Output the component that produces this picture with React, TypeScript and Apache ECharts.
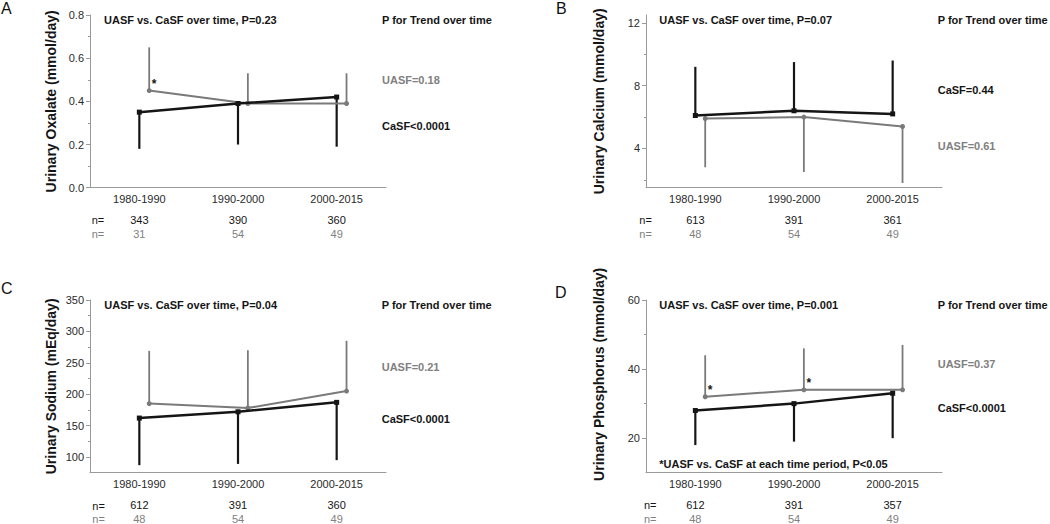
import React, { useEffect, useRef } from "react";
import * as echarts from "echarts";

const FONT = '"Liberation Sans", Arial, Helvetica, sans-serif';
const BLACK = "#151515";
const GRAY = "#7a7a7a";
const GRAY_TEXT = "#808080";
const AXIS = "#9a9a9a";
const LABEL = "#2a2a2a";

// ---------- data ----------
const categories = ["1980-1990", "1990-2000", "2000-2015"];

// Panel A – Urinary Oxalate (mmol/day)
const oxalateCasf = [0.35, 0.39, 0.42];
const oxalateCasfSd = [0.18, 0.2, 0.19];
const oxalateUasf = [0.45, 0.39, 0.39];
const oxalateUasfSd = [0.65, 0.53, 0.53];
const oxalateNCasf = ["343", "390", "360"];
const oxalateNUasf = ["31", "54", "49"];
const oxalateStar = [true, false, false];
const oxalateMajor = [0, 0.2, 0.4, 0.6, 0.8];
const oxalateMinor = [0.1, 0.3, 0.5, 0.7];

// Panel B – Urinary Calcium (mmol/day)
const calciumCasf = [6.1, 6.4, 6.2];
const calciumCasfSd = [9.2, 9.5, 9.6];
const calciumUasf = [5.9, 6.0, 5.4];
const calciumUasfSd = [2.8, 2.5, 1.8];
const calciumNCasf = ["613", "391", "361"];
const calciumNUasf = ["48", "54", "49"];
const calciumStar = [false, false, false];
const calciumMajor = [4, 8, 12];
const calciumMinor = [2, 6, 10];

// Panel C – Urinary Sodium (mEq/day)
const sodiumCasf = [162, 172, 187];
const sodiumCasfSd = [87, 89, 95];
const sodiumUasf = [185, 178, 205];
const sodiumUasfSd = [269, 270, 285];
const sodiumNCasf = ["612", "391", "360"];
const sodiumNUasf = ["48", "54", "49"];
const sodiumStar = [false, false, false];
const sodiumMajor = [100, 150, 200, 250, 300, 350];
const sodiumMinor = [125, 175, 225, 275, 325];

// Panel D – Urinary Phosphorus (mmol/day)
const phosCasf = [28, 30, 33];
const phosCasfSd = [18, 19, 20];
const phosUasf = [32, 34, 34];
const phosUasfSd = [44, 46, 47];
const phosNCasf = ["612", "391", "357"];
const phosNUasf = ["48", "54", "49"];
const phosStar = [true, true, false];
const phosMajor = [20, 40, 60];
const phosMinor = [30, 50];

// ---------- layout ----------
const GRID_W = 296;
const GRID_H = 172.7;
const UASF_SHIFT = 0.1;

const panels = [
  {
    letter: "A", letterX: 1, letterY: 0,
    left: 90, top: 15, nameGap: 32, namePad: 0,
    yName: "Urinary Oxalate (mmol/day)", yMin: 0, yMax: 0.8, decimals: 1,
    major: oxalateMajor, minor: oxalateMinor,
    casf: oxalateCasf, casfSd: oxalateCasfSd, uasf: oxalateUasf, uasfSd: oxalateUasfSd,
    nCasf: oxalateNCasf, nUasf: oxalateNUasf, star: oxalateStar,
    title: "UASF vs. CaSF over time, P=0.23", titleX: 104, titleY: 20,
    trendX: 382,
    pvals: [
      { text: "UASF=0.18", color: GRAY_TEXT, y: 80 },
      { text: "CaSF<0.0001", color: BLACK, y: 125.7 },
    ],
    nX: 91.7, nY1: 220, nY2: 234, foot: null as null | { text: string; y: number },
  },
  {
    letter: "B", letterX: 556, letterY: 0,
    left: 646, top: 15, nameGap: 40, namePad: 0,
    yName: "Urinary Calcium (mmol/day)", yMin: 1.5, yMax: 12.5, decimals: 0,
    major: calciumMajor, minor: calciumMinor,
    casf: calciumCasf, casfSd: calciumCasfSd, uasf: calciumUasf, uasfSd: calciumUasfSd,
    nCasf: calciumNCasf, nUasf: calciumNUasf, star: calciumStar,
    title: "UASF vs. CaSF over time, P=0.07", titleX: 659.3, titleY: 20,
    trendX: 937.7,
    pvals: [
      { text: "CaSF=0.44", color: BLACK, y: 90 },
      { text: "UASF=0.61", color: GRAY_TEXT, y: 146 },
    ],
    nX: 639.3, nY1: 220, nY2: 234, foot: null,
  },
  {
    letter: "C", letterX: 1, letterY: 280,
    left: 90, top: 300, nameGap: 32, namePad: 0,
    yName: "Urinary Sodium (mEq/day)", yMin: 75, yMax: 350, decimals: 0,
    major: sodiumMajor, minor: sodiumMinor,
    casf: sodiumCasf, casfSd: sodiumCasfSd, uasf: sodiumUasf, uasfSd: sodiumUasfSd,
    nCasf: sodiumNCasf, nUasf: sodiumNUasf, star: sodiumStar,
    title: "UASF vs. CaSF over time, P=0.04", titleX: 104.3, titleY: 304.7,
    trendX: 381.7,
    pvals: [
      { text: "UASF=0.21", color: GRAY_TEXT, y: 367 },
      { text: "CaSF<0.0001", color: BLACK, y: 418.7 },
    ],
    nX: 92.3, nY1: 505.5, nY2: 519.3, foot: null,
  },
  {
    letter: "D", letterX: 555, letterY: 284,
    left: 646, top: 300, nameGap: 40, namePad: 24,
    yName: "Urinary Phosphorus (mmol/day)", yMin: 10, yMax: 60, decimals: 0,
    major: phosMajor, minor: phosMinor,
    casf: phosCasf, casfSd: phosCasfSd, uasf: phosUasf, uasfSd: phosUasfSd,
    nCasf: phosNCasf, nUasf: phosNUasf, star: phosStar,
    title: "UASF vs. CaSF over time, P=0.001", titleX: 659.3, titleY: 304.7,
    trendX: 937.7,
    pvals: [
      { text: "UASF=0.37", color: GRAY_TEXT, y: 363.7 },
      { text: "CaSF<0.0001", color: BLACK, y: 408 },
    ],
    nX: 644, nY1: 505.3, nY2: 519.3,
    foot: { text: "*UASF vs. CaSF at each time period, P<0.05", y: 463.7 },
  },
];

function errBar(color: string, width: number) {
  return (params: any, api: any) => {
    const x = api.value(0);
    const p1 = api.coord([x, api.value(1)]);
    const p2 = api.coord([x, api.value(2)]);
    return {
      type: "line",
      shape: { x1: p1[0], y1: p1[1], x2: p2[0], y2: p2[1] },
      style: { stroke: color, lineWidth: width },
    };
  };
}

function text(x: number, y: number, str: string, opts: any = {}) {
  return {
    type: "text",
    x,
    y,
    silent: true,
    style: {
      text: str,
      fill: opts.fill || BLACK,
      fontFamily: FONT,
      fontSize: opts.fontSize || 11,
      fontWeight: opts.fontWeight || "bold",
      align: opts.align || "left",
      verticalAlign: opts.verticalAlign || "middle",
    },
  };
}

function buildOption() {
  const grid: any[] = [];
  const xAxis: any[] = [];
  const yAxis: any[] = [];
  const series: any[] = [];
  const graphic: any[] = [];

  panels.forEach((p, i) => {
    grid.push({ left: p.left, top: p.top, width: GRID_W, height: GRID_H, outerBoundsMode: "none" });

    xAxis.push({
      type: "category",
      gridIndex: i,
      position: "bottom",
      data: categories,
      axisLine: { onZero: false, lineStyle: { color: AXIS, width: 1 } },
      axisTick: { alignWithLabel: true, length: 4, lineStyle: { color: AXIS } },
      axisLabel: { interval: 0, margin: 6, fontSize: 11, color: LABEL, fontFamily: FONT },
      splitLine: { show: false },
    });
    xAxis.push({
      type: "category",
      gridIndex: i,
      position: "bottom",
      data: p.nCasf,
      axisLine: { show: false, onZero: false },
      axisTick: { show: false },
      axisLabel: { interval: 0, margin: 27, fontSize: 11, color: BLACK, fontFamily: FONT },
      splitLine: { show: false },
    });
    xAxis.push({
      type: "category",
      gridIndex: i,
      position: "bottom",
      data: p.nUasf,
      axisLine: { show: false, onZero: false },
      axisTick: { show: false },
      axisLabel: { interval: 0, margin: 41, fontSize: 11, color: GRAY_TEXT, fontFamily: FONT },
      splitLine: { show: false },
    });
    xAxis.push({
      type: "value",
      gridIndex: i,
      position: "bottom",
      min: -0.5,
      max: 2.5,
      show: false,
      axisLine: { onZero: false },
      splitLine: { show: false },
    });

    yAxis.push({
      type: "value",
      gridIndex: i,
      position: "left",
      min: p.yMin,
      max: p.yMax,
      name: p.yName,
      nameLocation: "middle",
      nameGap: p.nameGap,
      nameTextStyle: {
        fontSize: 14,
        fontWeight: "bold",
        color: BLACK,
        fontFamily: FONT,
        padding: [0, 0, 0, p.namePad],
      },
      axisLine: { show: true, onZero: false, lineStyle: { color: AXIS, width: 1 } },
      axisTick: { show: true, length: 4, customValues: p.major, lineStyle: { color: AXIS } },
      axisLabel: {
        customValues: p.major,
        margin: 6,
        fontSize: 11,
        color: LABEL,
        fontFamily: FONT,
        formatter: (v: number) => v.toFixed(p.decimals),
      },
      splitLine: { show: false },
    });
    yAxis.push({
      type: "value",
      gridIndex: i,
      position: "left",
      min: p.yMin,
      max: p.yMax,
      axisLine: { show: false, onZero: false },
      axisTick: { show: true, length: 2, customValues: p.minor, lineStyle: { color: AXIS } },
      axisLabel: { show: false },
      splitLine: { show: false },
    });

    const xi = i * 4 + 3;
    const yi = i * 2;

    series.push({
      type: "custom",
      xAxisIndex: xi,
      yAxisIndex: yi,
      renderItem: errBar(BLACK, 2.2),
      encode: { x: 0, y: [1, 2] },
      data: p.casf.map((v, j) => [j, v, p.casfSd[j]]),
      z: 2,
      silent: true,
    });
    series.push({
      type: "custom",
      xAxisIndex: xi,
      yAxisIndex: yi,
      renderItem: errBar(GRAY, 1.8),
      encode: { x: 0, y: [1, 2] },
      data: p.uasf.map((v, j) => [j + UASF_SHIFT, v, p.uasfSd[j]]),
      z: 2,
      silent: true,
    });
    series.push({
      type: "line",
      name: "CaSF",
      xAxisIndex: xi,
      yAxisIndex: yi,
      data: p.casf.map((v, j) => [j, v]),
      symbol: "rect",
      symbolSize: 5,
      showAllSymbol: true,
      lineStyle: { color: BLACK, width: 2.5 },
      itemStyle: { color: BLACK },
      z: 4,
      silent: true,
    });
    series.push({
      type: "line",
      name: "UASF",
      xAxisIndex: xi,
      yAxisIndex: yi,
      data: p.uasf.map((v, j) => ({
        value: [j + UASF_SHIFT, v],
        label: { show: p.star[j] },
      })),
      symbol: "circle",
      symbolSize: 5,
      showAllSymbol: true,
      lineStyle: { color: GRAY, width: 2 },
      itemStyle: { color: GRAY },
      label: {
        show: false,
        formatter: "*",
        position: "top",
        distance: 2,
        offset: [5, 4],
        fontSize: 12,
        fontWeight: "bold",
        color: BLACK,
        fontFamily: FONT,
      },
      z: 3,
      silent: true,
    });

    graphic.push(
      text(p.letterX, p.letterY, p.letter, {
        fontSize: 16,
        fontWeight: "normal",
        fill: "#111",
        verticalAlign: "top",
      })
    );
    graphic.push(text(p.titleX, p.titleY, p.title));
    graphic.push(text(p.trendX, p.titleY, "P for Trend over time"));
    p.pvals.forEach((pv) => graphic.push(text(p.trendX, pv.y, pv.text, { fill: pv.color })));
    graphic.push(text(p.nX, p.nY1, "n=", { fontWeight: "normal", fill: BLACK }));
    graphic.push(text(p.nX, p.nY2, "n=", { fontWeight: "normal", fill: GRAY_TEXT }));
    if (p.foot) graphic.push(text(p.titleX, p.foot.y, p.foot.text));
  });

  return {
    animation: false,
    backgroundColor: "#ffffff",
    textStyle: { fontFamily: FONT },
    grid,
    xAxis,
    yAxis,
    series,
    graphic,
  };
}

export default function App() {
  const ref = useRef<HTMLDivElement>(null);
  useEffect(() => {
    document.body.style.margin = "0";
    if (!ref.current) return;
    const chart = echarts.init(ref.current, undefined, { renderer: "svg" });
    chart.setOption(buildOption() as any);
    return () => chart.dispose();
  }, []);
  return <div ref={ref} style={{ width: 1050, height: 524 }} />;
}
